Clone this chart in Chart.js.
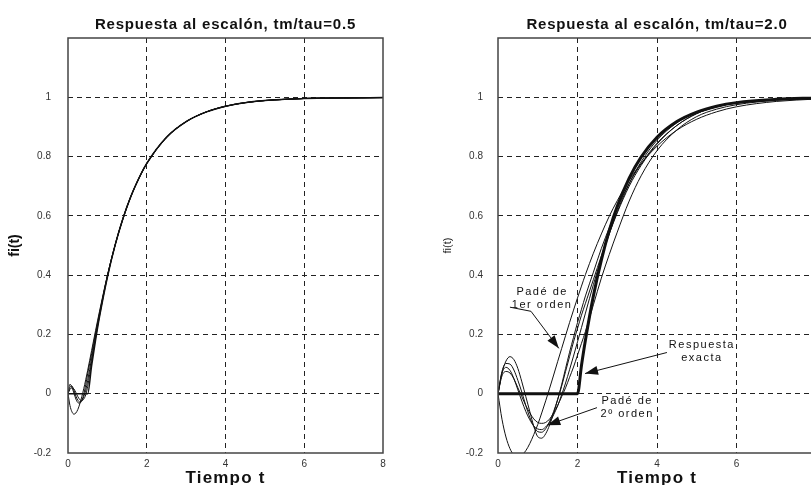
<!DOCTYPE html>
<html>
<head>
<meta charset="utf-8">
<title>Respuesta al escalón</title>
<script src="https://cdn.jsdelivr.net/npm/chart.js@4.4.0/dist/chart.umd.min.js"></script>
<style>
    html, body { margin: 0; padding: 0; background: #fff; overflow: hidden; width: 811px; height: 485px; }
    #chartLeft { position: absolute; left: 0; top: 0; }
    #chartRight { position: absolute; left: 405px; top: 0; }
</style>
</head>
<body>
<canvas id="chartLeft" width="405" height="485"></canvas>
<canvas id="chartRight" width="426" height="485"></canvas>
<script>
// tm/tau = 0.5 (left plot)
var tLeft = [0, 0.05, 0.1, 0.15, 0.2, 0.25, 0.3, 0.35, 0.4, 0.45, 0.5, 0.6, 0.7, 0.8, 1.0, 1.2, 1.4, 1.6, 1.8, 2.0, 2.5, 3.0, 3.5, 4.0, 4.5, 5.0, 5.5, 6.0, 7.0, 8.0];
var exactLeft = [0, 0, 0, 0, 0, 0, 0, 0, 0, 0, 0, 0.095, 0.181, 0.259, 0.393, 0.503, 0.593, 0.667, 0.727, 0.777, 0.865, 0.918, 0.950, 0.970, 0.982, 0.989, 0.993, 0.996, 0.998, 0.999];
var pade1Left = [0, -0.040, -0.061, -0.069, -0.065, -0.053, -0.034, -0.010, 0.017, 0.047, 0.079, 0.146, 0.213, 0.278, 0.399, 0.503, 0.591, 0.665, 0.725, 0.775, 0.863, 0.917, 0.950, 0.969, 0.981, 0.989, 0.993, 0.996, 0.998, 0.999];
var pade2Left = [0, 0.032, 0.022, 0.002, -0.018, -0.030, -0.032, -0.022, -0.002, 0.030, 0.068, 0.135, 0.205, 0.272, 0.398, 0.504, 0.593, 0.667, 0.727, 0.777, 0.865, 0.918, 0.950, 0.970, 0.982, 0.989, 0.993, 0.996, 0.998, 0.999];
var pade3Left = [0, 0.022, 0.026, 0.012, -0.008, -0.022, -0.028, -0.024, -0.010, 0.012, 0.045, 0.120, 0.195, 0.266, 0.396, 0.503, 0.593, 0.667, 0.727, 0.777, 0.865, 0.918, 0.950, 0.970, 0.982, 0.989, 0.993, 0.996, 0.998, 0.999];
var pade4Left = [0, 0.015, 0.020, 0.016, 0.004, -0.010, -0.020, -0.024, -0.018, -0.004, 0.025, 0.108, 0.188, 0.262, 0.394, 0.503, 0.593, 0.667, 0.727, 0.777, 0.865, 0.918, 0.950, 0.970, 0.982, 0.989, 0.993, 0.996, 0.998, 0.999];

// tm/tau = 2.0 (right plot)
var tRight = [0, 0.1, 0.2, 0.3, 0.4, 0.5, 0.6, 0.7, 0.8, 0.9, 1.0, 1.1, 1.2, 1.3, 1.4, 1.5, 1.6, 1.7, 1.8, 1.9, 2.0, 2.1, 2.2, 2.4, 2.6, 2.8, 3.0, 3.3, 3.6, 4.0, 4.5, 5.0, 5.5, 6.0, 7.0, 8.0];
var exactRight = [0, 0, 0, 0, 0, 0, 0, 0, 0, 0, 0, 0, 0, 0, 0, 0, 0, 0, 0, 0, 0, 0.095, 0.181, 0.330, 0.451, 0.551, 0.632, 0.727, 0.798, 0.865, 0.918, 0.950, 0.970, 0.982, 0.993, 0.998];
var pade1Right = [0, -0.086, -0.146, -0.185, -0.207, -0.213, -0.207, -0.192, -0.168, -0.138, -0.104, -0.065, -0.024, 0.019, 0.063, 0.108, 0.152, 0.196, 0.240, 0.282, 0.323, 0.363, 0.402, 0.474, 0.539, 0.599, 0.651, 0.720, 0.776, 0.835, 0.889, 0.926, 0.951, 0.968, 0.986, 0.994];
var pade2Right = [0, 0.069, 0.089, 0.079, 0.051, 0.013, -0.025, -0.060, -0.088, -0.109, -0.119, -0.121, -0.112, -0.096, -0.071, -0.041, -0.004, 0.036, 0.081, 0.127, 0.175, 0.223, 0.272, 0.368, 0.458, 0.540, 0.614, 0.708, 0.782, 0.855, 0.914, 0.950, 0.970, 0.982, 0.993, 0.998];
var pade3Right = [0, 0.070, 0.110, 0.125, 0.115, 0.085, 0.040, -0.010, -0.060, -0.110, -0.145, -0.150, -0.135, -0.105, -0.065, -0.020, 0.030, 0.085, 0.140, 0.190, 0.240, 0.285, 0.330, 0.410, 0.490, 0.560, 0.625, 0.710, 0.775, 0.845, 0.905, 0.945, 0.968, 0.980, 0.992, 0.997];
var pade4Right = [0, 0.075, 0.102, 0.100, 0.080, 0.045, 0.005, -0.040, -0.080, -0.110, -0.128, -0.130, -0.118, -0.093, -0.060, -0.020, 0.025, 0.075, 0.125, 0.175, 0.220, 0.265, 0.305, 0.385, 0.465, 0.540, 0.610, 0.700, 0.770, 0.842, 0.905, 0.945, 0.968, 0.981, 0.993, 0.997];
var pade5Right = [0, 0.060, 0.075, 0.070, 0.050, 0.020, -0.010, -0.040, -0.065, -0.085, -0.097, -0.100, -0.097, -0.085, -0.065, -0.040, -0.010, 0.020, 0.055, 0.090, 0.130, 0.170, 0.210, 0.300, 0.390, 0.470, 0.545, 0.650, 0.735, 0.820, 0.890, 0.935, 0.960, 0.975, 0.990, 0.996];

var xTicks = [0, 2, 4, 6, 8];
var yMin = -0.2, yMax = 1.2;

// text notes on the right plot, anchored in data units
var notes = [
    { lines: ["Padé de", "1er orden"], x: 1.11, y: 0.342, arrow: [[0.30, 0.292], [0.83, 0.278], [1.53, 0.153]] },
    { lines: ["Respuesta", "exacta"], x: 5.13, y: 0.166, arrow: [[4.25, 0.139], [2.19, 0.068]] },
    { lines: ["Padé de", "2º orden"], x: 3.25, y: -0.024, arrow: [[2.49, -0.047], [1.24, -0.106]] }
];

Chart.defaults.font.family = '"Liberation Sans", Arial, sans-serif';
Chart.defaults.color = "#333";

function pairs(t, v) {
    var out = [];
    for (var i = 0; i < t.length; i++) out.push({ x: t[i], y: v[i] });
    return out;
}

function curve(t, v, width) {
    return {
        data: pairs(t, v),
        borderColor: "#111",
        borderWidth: width,
        pointRadius: 0,
        fill: false,
        cubicInterpolationMode: "monotone"
    };
}

var boxPlugin = {
    id: "box",
    afterDatasetsDraw: function (chart) {
        var a = chart.chartArea, ctx = chart.ctx;
        ctx.save();
        ctx.strokeStyle = "#444";
        ctx.lineWidth = 1.5;
        ctx.strokeRect(a.left, a.top, a.right - a.left, a.bottom - a.top);
        ctx.restore();
    }
};

var notesPlugin = {
    id: "notes",
    afterDraw: function (chart) {
        var ctx = chart.ctx, sx = chart.scales.x, sy = chart.scales.y;
        ctx.save();
        ctx.fillStyle = "#111";
        ctx.strokeStyle = "#111";
        ctx.lineWidth = 1;
        ctx.font = '11px "Liberation Sans", Arial, sans-serif';
        ctx.letterSpacing = "1.5px";
        ctx.textAlign = "center";
        ctx.textBaseline = "middle";
        notes.forEach(function (n) {
            var px = sx.getPixelForValue(n.x), py = sy.getPixelForValue(n.y);
            n.lines.forEach(function (s, i) { ctx.fillText(s, px, py + i * 13); });
            var pts = n.arrow.map(function (p) { return [sx.getPixelForValue(p[0]), sy.getPixelForValue(p[1])]; });
            ctx.beginPath();
            ctx.moveTo(pts[0][0], pts[0][1]);
            for (var i = 1; i < pts.length; i++) ctx.lineTo(pts[i][0], pts[i][1]);
            ctx.stroke();
            // arrow head
            var p1 = pts[pts.length - 2], p2 = pts[pts.length - 1];
            var ang = Math.atan2(p2[1] - p1[1], p2[0] - p1[0]);
            var len = 13, half = 4.5;
            ctx.beginPath();
            ctx.moveTo(p2[0], p2[1]);
            ctx.lineTo(p2[0] - len * Math.cos(ang) + half * Math.sin(ang), p2[1] - len * Math.sin(ang) - half * Math.cos(ang));
            ctx.lineTo(p2[0] - len * Math.cos(ang) - half * Math.sin(ang), p2[1] - len * Math.sin(ang) + half * Math.cos(ang));
            ctx.closePath();
            ctx.fill();
        });
        ctx.restore();
    }
};

function hideEdge(min, max) {
    return function (c) {
        if (c.tick && (Math.abs(c.tick.value - min) < 1e-9 || Math.abs(c.tick.value - max) < 1e-9)) return "rgba(0,0,0,0)";
        return "#222";
    };
}

// old matlab text is spaced out a bit; wrap a draw call with letterSpacing
function spaced(chart, obj, method, spacing) {
    var orig = obj[method];
    obj[method] = function () {
        var c = chart.ctx;
        var old = c.letterSpacing;
        c.letterSpacing = spacing;
        var r = orig.apply(obj, arguments);
        c.letterSpacing = old;
        return r;
    };
}

function makeChart(id, title, datasets, yAxisWidth, padRight, yTitle) {
    var ctx = document.getElementById(id).getContext("2d");
    var chart = new Chart(ctx, {
        type: "line",
        data: { datasets: datasets },
        plugins: [boxPlugin].concat(id === "chartRight" ? [notesPlugin] : []),
        options: {
            responsive: false,
            animation: false,
            layout: { padding: { left: 0, right: padRight, top: 0, bottom: 0 } },
            plugins: {
                legend: { display: false },
                tooltip: { enabled: false },
                title: {
                    display: true,
                    text: title,
                    fullSize: false,
                    color: "#111",
                    font: { size: 15, weight: "bold", lineHeight: 1.2 },
                    padding: { top: 16, bottom: 4 }
                }
            },
            scales: {
                x: {
                    type: "linear",
                    min: xTicks[0],
                    max: xTicks[xTicks.length - 1],
                    afterFit: function (s) { s.height = 32; },
                    afterBuildTicks: function (s) { s.ticks = xTicks.map(function (v) { return { value: v }; }); },
                    ticks: { padding: 5, maxRotation: 0, font: { size: 10 }, color: "#333" },
                    grid: { color: hideEdge(0, 8), lineWidth: 1, drawTicks: false },
                    border: { display: false, dash: [5, 4] },
                    title: {
                        display: true,
                        text: "Tiempo t",
                        color: "#111",
                        font: { size: 17, weight: "bold", lineHeight: 1 },
                        padding: { top: 0, bottom: -2 }
                    }
                },
                y: {
                    min: yMin,
                    max: yMax,
                    afterFit: function (s) { s.width = yAxisWidth; },
                    ticks: {
                        stepSize: 0.2,
                        padding: yAxisWidth > 80 ? 15 : 17,
                        font: { size: 10 },
                        color: "#333",
                        callback: function (v) { return Math.abs(v - yMax) < 1e-9 ? "" : String(+v.toFixed(1)); }
                    },
                    grid: { color: hideEdge(yMin, yMax), lineWidth: 1, drawTicks: false },
                    border: { display: false, dash: [5, 4] },
                    title: yTitle
                }
            }
        }
    });
    spaced(chart, chart.titleBlock, "draw", "0.8px");
    spaced(chart, chart.scales.x, "drawTitle", "1.2px");
    chart.draw();
    return chart;
}

makeChart("chartLeft", "Respuesta al escalón, tm/tau=0.5", [
    curve(tLeft, pade1Left, 1),
    curve(tLeft, pade2Left, 1),
    curve(tLeft, pade3Left, 1),
    curve(tLeft, pade4Left, 1),
    curve(tLeft, exactLeft, 1.5)
], 68, 22, {
    display: true, text: "fi(t)", color: "#111",
    font: { size: 14, weight: "bold", lineHeight: 1.2 },
    padding: { top: 7, bottom: 0 }
});

makeChart("chartRight", "Respuesta al escalón, tm/tau=2.0", [
    curve(tRight, pade1Right, 1),
    curve(tRight, pade2Right, 1),
    curve(tRight, pade3Right, 1),
    curve(tRight, pade4Right, 1),
    curve(tRight, pade5Right, 1),
    curve(tRight, exactRight, 3)
], 93, 15, {
    display: true, text: "fi(t)", color: "#222",
    font: { size: 11, weight: "normal", lineHeight: 1.2 },
    padding: { top: 36, bottom: 0 }
});
</script>
</body>
</html>
